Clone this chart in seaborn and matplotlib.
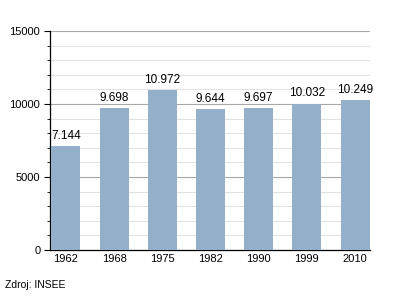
import matplotlib
matplotlib.use("Agg")
import matplotlib.pyplot as plt
import seaborn as sns
import pandas as pd
from matplotlib.ticker import MultipleLocator

years = ["1962", "1968", "1975", "1982", "1990", "1999", "2010"]
values = [7144, 9698, 10972, 9644, 9697, 10032, 10249]
labels = ["7.144", "9.698", "10.972", "9.644", "9.697", "10.032", "10.249"]

sns.set_style("white")
plt.rcParams['font.family'] = ['Liberation Sans', 'DejaVu Sans']
plt.rcParams['text.color'] = 'black'
plt.rcParams['xtick.color'] = 'black'
plt.rcParams['ytick.color'] = 'black'

fig = plt.figure(figsize=(4, 3), dpi=100)
ax = fig.add_axes([0.125, 0.1667, 0.8, 0.73])

df = pd.DataFrame({"year": years, "value": values})
sns.barplot(data=df, x="year", y="value", ax=ax, color="#94afc9", saturation=1,
            width=0.6, linewidth=0, edgecolor="none", zorder=3)

ax.set_ylim(0, 15000)
ax.set_xlim(-0.33, 6.31)
ax.yaxis.set_major_locator(MultipleLocator(5000))
ax.yaxis.set_minor_locator(MultipleLocator(1000))
ax.grid(which="major", axis="y", color="#a8a8a8", linewidth=0.8, zorder=0)
ax.grid(which="minor", axis="y", color="#e2e2e2", linewidth=0.8, zorder=0)
ax.set_axisbelow(True)
for s in ["top", "right"]:
    ax.spines[s].set_visible(False)
for s in ["left", "bottom"]:
    ax.spines[s].set_color("black")
    ax.spines[s].set_linewidth(0.9)
ax.tick_params(axis="y", which="major", length=4, width=0.8, color="black", labelcolor="black", labelsize=8, pad=3, left=True)
ax.tick_params(axis="y", which="minor", length=2, width=0.6, color="black", left=True)
ax.tick_params(axis="x", length=0, labelsize=8, labelcolor="black", pad=3)
ax.set_xlabel("")
ax.set_ylabel("")

for i, (v, lab) in enumerate(zip(values, labels)):
    ax.annotate(lab, (i, v), xytext=(0, 3), textcoords="offset points",
                ha="center", va="bottom", fontsize=8.5, color="black")

fig.text(0.0125, 0.035, "Zdroj: INSEE", fontsize=7.5, ha="left", va="bottom", color="black")

fig.savefig("out.png", dpi=100, facecolor="white")
